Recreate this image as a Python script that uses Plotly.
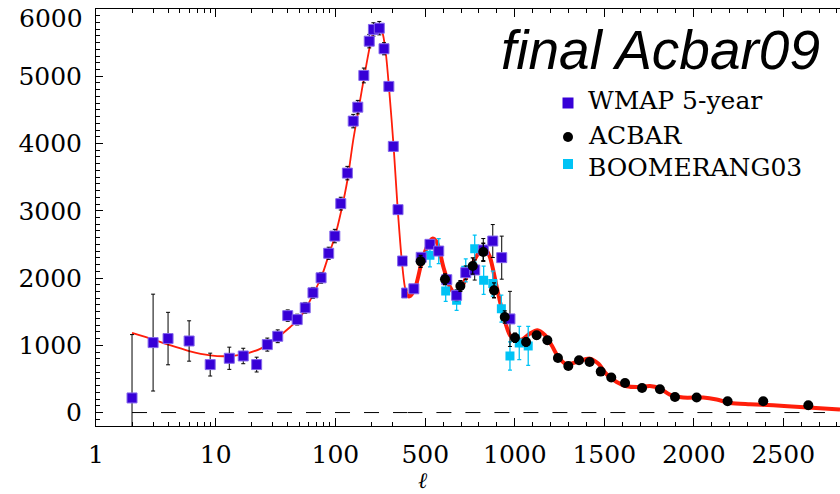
import math
import plotly.graph_objects as go

# ---------------- data ----------------
# WMAP 5-year band powers: multipole, value, error
wmap_l = [2, 3, 4, 6, 9, 13, 17, 22, 27, 33, 40, 48, 56, 65, 76, 88, 99, 111,
          126, 141, 154, 173, 192, 208, 233, 255, 280, 305, 334, 365, 394,
          436, 477, 526, 575, 620, 675, 726, 776, 824, 877, 927, 973]
wmap_v = [217, 1040, 1100, 1064, 713, 807, 841, 713, 1010, 1134, 1441, 1382, 1557,
          1780, 2003, 2368, 2624, 3106, 3560, 4333, 4541, 5012, 5522, 5696, 5715,
          5409, 4849, 3957, 3017, 2253, 1777,
          1840, 2308, 2501, 2401, 1976, 1743, 2080, 2120, 2417, 2550, 2303, 1392]
wmap_ep = [942, 720, 390, 300, 170, 165, 115, 110, 97, 95, 85, 80, 80, 80, 80, 90,
           100, 95, 100, 100, 100, 110, 100, 100, 100, 90, 70, 60, 50, 50, 45,
           45, 50, 50, 60, 70, 80, 100, 150, 170, 245, 320, 410]
wmap_em = [700] + wmap_ep[1:]

# ACBAR band powers
acbar_l = [474, 610, 696, 765, 824, 884, 944, 1001, 1063, 1122, 1182, 1241, 1299,
           1359, 1418, 1480, 1539, 1616, 1711, 1811, 1895, 2016, 2189, 2388, 2640]
acbar_v = [2248, 1981, 1881, 2179, 2387, 1817, 1421, 1112, 1049, 1149, 1074, 811,
           692, 777, 752, 609, 520, 440, 366, 346, 232, 223, 168, 168, 108]
acbar_e = [90, 80, 80, 120, 130, 110, 90, 70, 60, 55, 50, 45, 45, 45, 45, 45, 40,
           40, 40, 40, 40, 40, 40, 45, 50]

# BOOMERANG03 band powers
boom_l = [526, 575, 614, 675, 726, 776, 826, 877, 925, 973, 1025, 1075]
boom_v = [2337, 2400, 1807, 1669, 2114, 2437, 1966, 1917, 1545, 841, 1034, 990]
boom_e = [170, 185, 155, 150, 170, 200, 210, 185, 200, 210, 247, 290]

# best-fit model curve
curve_l = [2, 3, 4, 6, 9, 12, 17, 24, 32, 42, 50, 58, 67, 77, 88, 100, 112, 126,
           141, 156, 178, 202, 220, 235, 250, 265, 282, 307, 331, 359, 381, 400,
           411, 442, 480, 517, 539, 564, 601, 638, 666, 703, 750, 796, 834, 861,
           899, 936, 973, 1001, 1039, 1085, 1126, 1169, 1206, 1243, 1290, 1346,
           1420, 1466, 1513, 1569, 1625, 1700, 1755, 1811, 1866, 1941, 2053, 2128,
           2202, 2314, 2444, 2593, 2817]
curve_v = [1183, 1085, 1010, 915, 851, 837, 866, 955, 1100, 1272, 1400, 1580, 1800,
           2030, 2340, 2640, 3000, 3450, 4050, 4500, 5087, 5581, 5760, 5760, 5620,
           5320, 4789, 3947, 3055, 2263, 1866, 1740,
           1728, 1843, 2238, 2511, 2586, 2535, 2164, 1866, 1768, 1866, 2140, 2363,
           2437, 2312, 1866, 1446, 1149, 1100, 1085, 1174, 1223, 1149, 1000, 826,
           718, 752, 802, 728, 569, 455, 391, 380, 395, 357, 267, 223, 223, 193,
           143, 123, 108, 83, 45]

zero_l = [2, 400, 2733]
zero_v = [0, 0, 0]

log_ticks = [1, 10, 100]
lin_ticks = [500, 1000, 1500, 2000, 2500]
y_ticks = [0, 1000, 2000, 3000, 4000, 5000, 6000]

legend_names = ['WMAP 5-year', 'ACBAR', 'BOOMERANG03']

# ---------------- layout geometry ----------------
W, H = 840, 494
ML, MR, MT, MB = 96, 0, 9, 68
BREAK = 400
LMAX = 2817
PW = W - ML - MR
PH = H - MT - MB
SPLIT = 311.4 / PW   # fraction of plot width used by the log part


def px(x):
    return (x - ML) / PW


def py(y):
    return (H - MB - y) / PH


def part(ls, *arrs, low=True, pad=0):
    idx = [i for i, l in enumerate(ls) if (l <= BREAK + pad if low else l > BREAK - pad)]
    return [[a[i] for i in idx] for a in (ls,) + arrs]


WMAP_C = '#3700D7'
BOOM_C = '#00C3F5'
RED = '#FF1E0A'
SERIF = 'DejaVu Serif'

fig = go.Figure()

# zero dashed line
fig.add_trace(go.Scatter(x=zero_l[:2], y=zero_v[:2], xaxis='x', yaxis='y', mode='lines',
                         line=dict(color='black', width=1, dash='15px,14px'),
                         showlegend=False, hoverinfo='skip'))
fig.add_trace(go.Scatter(x=zero_l[1:], y=zero_v[1:], xaxis='x2', yaxis='y', mode='lines',
                         line=dict(color='black', width=1, dash='15px,14px'),
                         showlegend=False, hoverinfo='skip'))

# model curve
cl, cv = part(curve_l, curve_v, low=True, pad=15)
fig.add_trace(go.Scatter(x=cl, y=cv, xaxis='x', yaxis='y', mode='lines',
                         line=dict(color=RED, width=1.8, shape='spline', smoothing=0.8),
                         showlegend=False))
cl, cv = part(curve_l, curve_v, low=False, pad=25)
fig.add_trace(go.Scatter(x=cl, y=cv, xaxis='x2', yaxis='y', mode='lines',
                         line=dict(color=RED, width=4, shape='spline', smoothing=0.8),
                         showlegend=False))

# BOOMERANG03
fig.add_trace(go.Scatter(x=boom_l, y=boom_v, xaxis='x2', yaxis='y', mode='markers',
                         name=legend_names[2], showlegend=False,
                         marker=dict(symbol='square', size=9, color=BOOM_C),
                         error_y=dict(type='data', array=boom_e, color=BOOM_C,
                                      thickness=1.3, width=2)))

# WMAP
for low, ax in ((True, 'x'), (False, 'x2')):
    l, v, ep, em = part(wmap_l, wmap_v, wmap_ep, wmap_em, low=low)
    fig.add_trace(go.Scatter(x=l, y=v, xaxis=ax, yaxis='y', mode='markers',
                             name=legend_names[0], showlegend=False,
                             marker=dict(symbol='square', size=10, color=WMAP_C,
                                         line=dict(color='#8466EC', width=1)),
                             error_y=dict(type='data', symmetric=False, array=ep,
                                          arrayminus=em, color='black',
                                          thickness=1, width=2)))

# ACBAR
fig.add_trace(go.Scatter(x=acbar_l, y=acbar_v, xaxis='x2', yaxis='y', mode='markers',
                         name=legend_names[1], showlegend=False,
                         marker=dict(symbol='circle', size=10, color='black'),
                         error_y=dict(type='data', array=acbar_e, color='black',
                                      thickness=1.3, width=2)))

axis_common = dict(showline=True, linecolor='black', linewidth=1, showgrid=False,
                   zeroline=False, ticks='inside', tickcolor='black', tickwidth=1,
                   tickfont=dict(family=SERIF, size=25, color='black'))

# ---- hand-placed legend (symbols + labels), matching the reference layout ----
leg_sym_x = 568
leg_rows = [(103, 'square', WMAP_C, 11), (137, 'circle', 'black', 10),
            (164, 'square', BOOM_C, 10)]
leg_text_y = [101, 135, 167]
shapes = []
annotations = []
for (cy, sym, col, s), name, ty in zip(leg_rows, legend_names, leg_text_y):
    shapes.append(dict(type='rect' if sym == 'square' else 'circle',
                       xref='paper', yref='paper',
                       x0=px(leg_sym_x - s / 2), x1=px(leg_sym_x + s / 2),
                       y0=py(cy + s / 2), y1=py(cy - s / 2),
                       fillcolor=col, line=dict(width=0)))
    annotations.append(dict(text=name, xref='paper', yref='paper', x=px(586), y=py(ty),
                            xanchor='left', yanchor='middle', showarrow=False,
                            font=dict(family=SERIF, size=25, color='black')))

annotations += [
    dict(text='<i>final Acbar09</i>', xref='paper', yref='paper',
         x=px(822), y=py(50), xanchor='right', yanchor='middle', showarrow=False,
         font=dict(family='Liberation Sans Narrow, Liberation Sans, Arial', size=55,
                   color='black')),
    dict(text='<i>ℓ</i>', xref='paper', yref='paper', x=px(423), y=py(480),
         xanchor='center', yanchor='middle', showarrow=False,
         font=dict(family=SERIF, size=22, color='black')),
    dict(text='6000', xref='paper', yref='paper', x=px(85), y=py(18.5),
         xanchor='right', yanchor='middle', showarrow=False,
         font=dict(family=SERIF, size=25, color='black')),
]

fig.update_layout(
    width=W, height=H,
    margin=dict(l=ML, r=MR, t=MT, b=MB, pad=0),
    paper_bgcolor='white', plot_bgcolor='white',
    xaxis=dict(type='log', domain=[0, SPLIT], range=[0, math.log10(BREAK)],
               tickvals=log_ticks, ticktext=[str(t) for t in log_ticks],
               ticklen=8, mirror='ticks', anchor='y', ticklabelstandoff=6,
               minor=dict(tickvals=[2, 3, 4, 5, 6, 7, 8, 9, 20, 30, 40, 50, 60, 70,
                                    80, 90, 200, 300],
                          ticks='inside', ticklen=4, tickcolor='black', showgrid=False),
               **axis_common),
    xaxis2=dict(type='linear', domain=[SPLIT, 1], range=[BREAK, LMAX],
                tickvals=lin_ticks, ticktext=[str(t) for t in lin_ticks],
                ticklen=8, mirror='ticks', anchor='y', ticklabelstandoff=6,
                minor=dict(dtick=100, tick0=0, ticks='inside', ticklen=4,
                           tickcolor='black', showgrid=False),
                **axis_common),
    yaxis=dict(range=[-200, 6000], tickvals=y_ticks,
               ticktext=[str(t) if t < 6000 else '' for t in y_ticks],
               ticklen=7, mirror=False, anchor='x', ticklabelstandoff=8,
               minor=dict(dtick=100, tick0=0, ticks='inside', ticklen=3.5,
                          tickcolor='black', showgrid=False),
               **axis_common),
    shapes=shapes,
    annotations=annotations,
    showlegend=False,
)

fig.write_html('out.html')
